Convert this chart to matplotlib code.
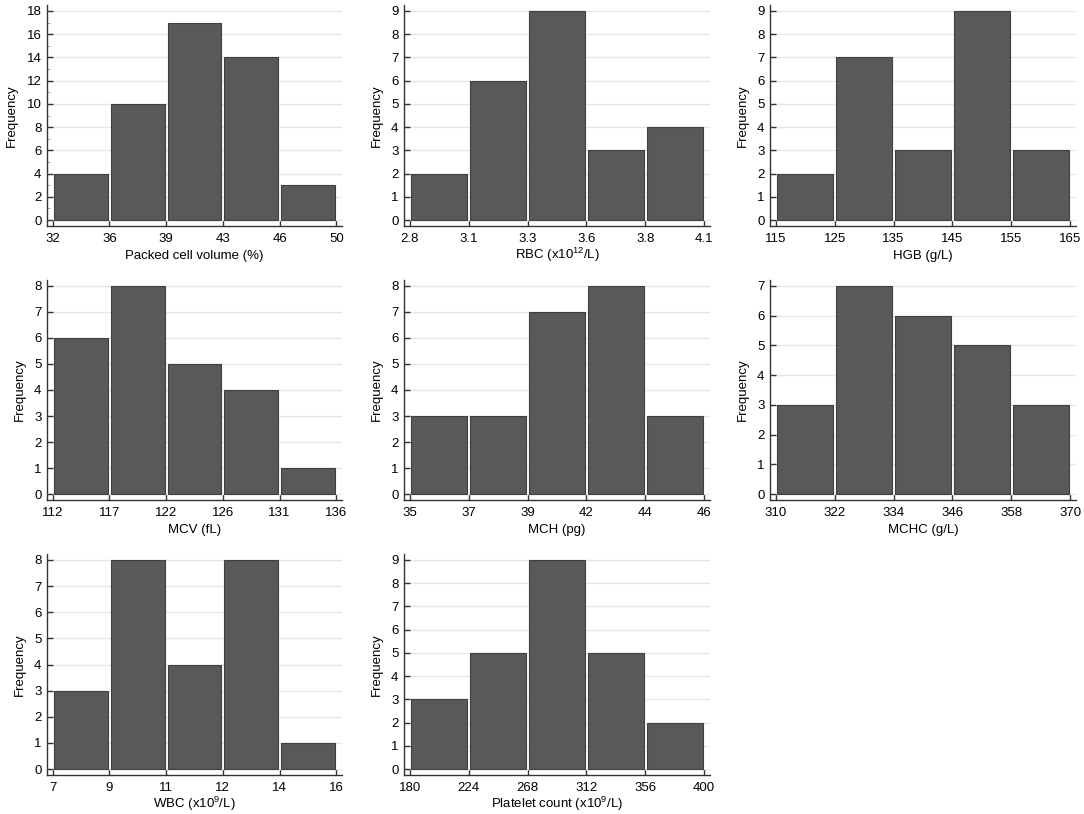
import numpy as np
import matplotlib
matplotlib.use("Agg")
from matplotlib import pyplot as plt
from matplotlib.ticker import MultipleLocator

plt.rcParams['font.family'] = ['Liberation Sans', 'DejaVu Sans']
plt.rcParams['mathtext.fontset'] = 'custom'
plt.rcParams['mathtext.rm'] = 'Liberation Sans'
plt.rcParams['mathtext.it'] = 'Liberation Sans:italic'

# bin edges (tick labels) and counts for each histogram
pcv_edges = ["32", "36", "39", "43", "46", "50"]
pcv_counts = [4, 10, 17, 14, 3]
rbc_edges = ["2.8", "3.1", "3.3", "3.6", "3.8", "4.1"]
rbc_counts = [2, 6, 9, 3, 4]
hgb_edges = ["115", "125", "135", "145", "155", "165"]
hgb_counts = [2, 7, 3, 9, 3]
mcv_edges = ["112", "117", "122", "126", "131", "136"]
mcv_counts = [6, 8, 5, 4, 1]
mch_edges = ["35", "37", "39", "42", "44", "46"]
mch_counts = [3, 3, 7, 8, 3]
mchc_edges = ["310", "322", "334", "346", "358", "370"]
mchc_counts = [3, 7, 6, 5, 3]
wbc_edges = ["7", "9", "11", "12", "14", "16"]
wbc_counts = [3, 8, 4, 8, 1]
plt_edges = ["180", "224", "268", "312", "356", "400"]
plt_counts = [3, 5, 9, 5, 2]

xlabels = ["Packed cell volume (%)", r"RBC (x10$^{\mathrm{12}}$/L)", "HGB (g/L)",
           "MCV (fL)", "MCH (pg)", "MCHC (g/L)",
           r"WBC (x10$^{\mathrm{9}}$/L)", r"Platelet count (x10$^{\mathrm{9}}$/L)"]
panels = [(pcv_edges, pcv_counts, 18, 2), (rbc_edges, rbc_counts, 9, 1),
          (hgb_edges, hgb_counts, 9, 1), (mcv_edges, mcv_counts, 8, 1),
          (mch_edges, mch_counts, 8, 1), (mchc_edges, mchc_counts, 7, 1),
          (wbc_edges, wbc_counts, 8, 1), (plt_edges, plt_counts, 9, 1)]

W, H = 1084, 814
fig = plt.figure(figsize=(W / 100, H / 100), dpi=100)

# pixel boxes: (left, width) per column, (top, bottom) per row
cols = [(47, 295), (404, 306), (770, 306)]
rows = [(5, 226), (280, 500), (554, 775)]

for k, (edges, counts, ymax, step) in enumerate(panels):
    r, c = divmod(k, 3)
    left, width = cols[c]
    top, bottom = rows[r]
    ax = fig.add_axes([left / W, 1 - bottom / H, width / W, (bottom - top) / H])
    x = np.arange(len(counts)) + 0.5
    ax.bar(x, counts, width=0.95, color='#595959', edgecolor='#3f3f3f',
           linewidth=0.8, zorder=3)
    m = 0.0287 * ymax
    ax.set_ylim(-m, ymax + m)
    ax.set_xlim(-0.1, 5.1)
    ax.set_xticks(np.arange(len(edges)))
    ax.set_xticklabels(edges)
    ax.yaxis.set_major_locator(MultipleLocator(step))
    if step > 1:
        ax.yaxis.set_minor_locator(MultipleLocator(1))
    ax.yaxis.grid(True, color='#e6e6e6', linewidth=1, zorder=0)
    ax.set_axisbelow(True)
    for s in ['top', 'right']:
        ax.spines[s].set_visible(False)
    for s in ['left', 'bottom']:
        ax.spines[s].set_color('#333333')
        ax.spines[s].set_linewidth(1)
    ax.tick_params(axis='both', direction='in', length=4, width=1,
                   color='#333333', labelsize=9.5)
    ax.tick_params(axis='y', which='minor', direction='in', length=2,
                   width=0.6, color='#999999')
    ax.tick_params(axis='y', pad=4)
    ax.tick_params(axis='x', pad=5)
    # x label placed by its baseline, a fixed distance under the axis
    ax.set_xlabel(xlabels[k], fontsize=9.5, va='baseline')
    ax.xaxis.set_label_coords(0.5, -33 / (bottom - top))
    ax.set_ylabel("Frequency", fontsize=9.5, labelpad=6)

fig.savefig("out.png", dpi=100, facecolor='white')
